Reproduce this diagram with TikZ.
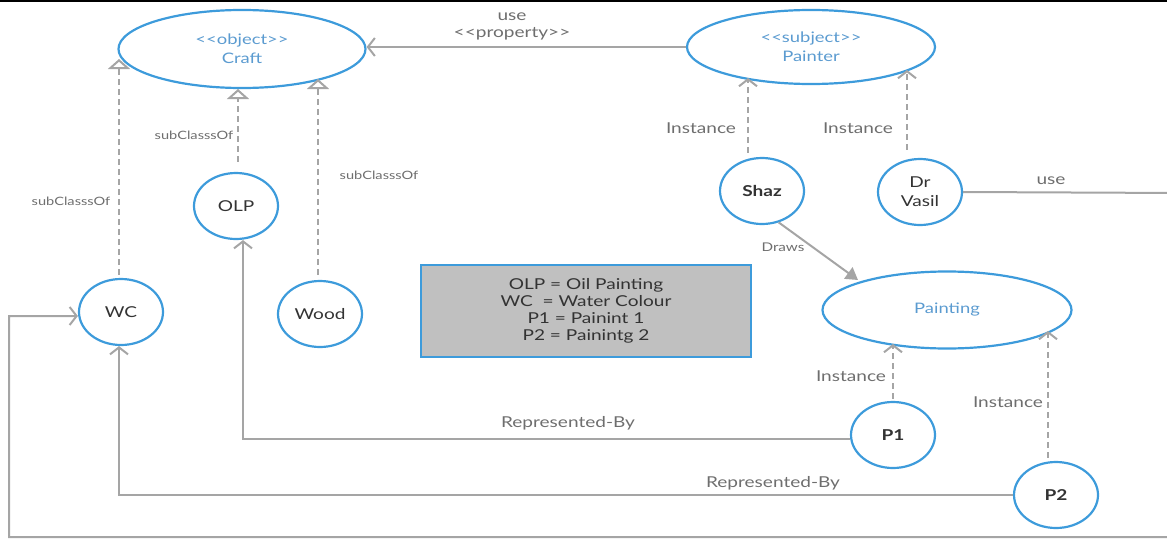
\documentclass[tikz,border=0pt]{standalone}
\usepackage{fontspec}
\setmainfont[FakeStretch=1.27]{Lato}
\usetikzlibrary{shapes.geometric,arrows.meta}

\definecolor{nodeblue}{HTML}{3D9BDB}
\definecolor{textblue}{HTML}{5B9BD0}
\definecolor{linegray}{HTML}{A5A5A5}
\definecolor{labelgray}{HTML}{6E6E6E}
\definecolor{darktext}{HTML}{333333}
\definecolor{legendfill}{HTML}{C0C0C0}

\begin{document}
\begin{tikzpicture}[x=1pt,y=-1pt,
  classnode/.style={ellipse, draw=nodeblue, line width=2.2pt, text=textblue,
    font=\fontsize{14.5}{19}\selectfont, align=center, inner sep=0pt},
  instnode/.style={ellipse, draw=nodeblue, line width=2.2pt, text=darktext,
    font=\fontsize{15}{19}\selectfont, align=center,
    minimum width=84pt, minimum height=66pt, inner sep=0pt},
  link/.style={draw=linegray, line width=2pt},
  barb/.style={-{Straight Barb[length=7pt,width=18pt,line width=2pt]}},
  dashlink/.style={link, dash pattern=on 6pt off 4pt},
  subclass/.style={dashlink, -{Triangle[open,length=10pt,width=22pt,line width=2pt,fill=white]}},
  lbl/.style={text=labelgray, font=\fontsize{15}{17}\selectfont, inner sep=0pt, align=center},
  smalllbl/.style={text=labelgray, font=\fontsize{11.5}{14}\selectfont, inner sep=0pt}
]
\clip (0,0) rectangle (1167,546);

% frame edge along the top
\draw[black, line width=1.6pt] (0,0.8) -- (1167,0.8);

% classes
\node[classnode, minimum width=247pt, minimum height=78pt] (craft) at (242,49) {<{}<object>{}>\\Craft};
\node[classnode, minimum width=248pt, minimum height=74pt] (painter) at (811,47) {<{}<subject>{}>\\Painter};
\node[classnode, minimum width=249pt, minimum height=77pt] (painting) at (947,310) {Painting};

% individuals
\node[instnode] (olp) at (236,206) {OLP};
\node[instnode] (wc) at (121,312) {WC};
\node[instnode] (wood) at (320,314) {Wood};
\node[instnode, font=\fontsize{15}{19}\selectfont\bfseries] (shaz) at (762,191) {Shaz};
\node[instnode] (vasil) at (920,192) {Dr\\Vasil};
\node[instnode, font=\fontsize{15}{19}\selectfont\bfseries] (p1) at (893,435) {P1};
\node[instnode, font=\fontsize{15}{19}\selectfont\bfseries] (p2) at (1056,495) {P2};

% legend
\node[draw=nodeblue, fill=legendfill, line width=2pt, minimum width=330pt, minimum height=92pt,
  text=darktext, font=\fontsize{15}{17}\selectfont, align=center] (legend) at (586,311)
  {OLP = Oil Painting\\ WC\ \ = Water Colour\\P1 = Painint 1\\ P2 = Painintg 2};

% arrow end points on class borders
\coordinate (wcTip) at (119,59);
\coordinate (olpTip) at (238,89);
\coordinate (woodTip) at (318,79);
\coordinate (shazTip) at (748,78);
\coordinate (vasilTip) at (907,70);
\coordinate (p1Tip) at (893,344);
\coordinate (p2Tip) at (1048,331);
\coordinate (drawsTip) at (858,280);
\coordinate (farRightA) at (1180,193);
\coordinate (farRightB) at (1180,537);
\coordinate (bottomLeft) at (9,537);

% use <<property>>
\draw[link, barb] (painter.west) -- (craft.east |- painter.west);
\node[lbl] (propLbl) at (512,26) {use\\<{}<property>{}>};

% subClassOf links
\draw[subclass, shorten <=3pt] ([xshift=-2pt]wc.north) -- (wcTip);
\draw[subclass, shorten <=10pt] ([xshift=2pt]olp.north) -- (olpTip);
\draw[subclass, shorten <=5pt] ([xshift=-2pt]wood.north) -- (woodTip);
\node[smalllbl] (subLblA) at (71,201) {subClasssOf};
\node[smalllbl] (subLblB) at (194,135) {subClasssOf};
\node[smalllbl] (subLblC) at (379,175) {subClasssOf};

% instance links
\draw[dashlink, barb, shorten <=4pt] ([xshift=-14pt]shaz.north) -- (shazTip);
\draw[dashlink, barb, shorten <=8pt] ([xshift=-13pt]vasil.north) -- (vasilTip);
\draw[dashlink, barb, shorten <=2pt] (p1.north) -- (p1Tip);
\draw[dashlink, barb, shorten <=3pt] ([xshift=-8pt]p2.north) -- (p2Tip);
\node[lbl] (instLblA) at (701,128) {Instance};
\node[lbl] (instLblB) at (858,128) {Instance};
\node[lbl] (instLblC) at (851,376) {Instance};
\node[lbl] (instLblD) at (1008,402) {Instance};

% Draws
\draw[link, -{Triangle[length=12pt,width=14pt]}] (shaz.-62) -- (drawsTip);
\node[smalllbl, font=\fontsize{12}{14}\selectfont] (drawsLbl) at (783,247) {Draws};

% Represented-By
\draw[link, barb] ([yshift=-4pt]p1.west) -| ([xshift=7pt]olp.south);
\node[lbl] (repLblA) at (568,423) {Represented-By};
\draw[link, barb] (p2.west) -| ([xshift=-2pt]wc.south);
\node[lbl] (repLblB) at (773,483) {Represented-By};

% Dr Vasil uses WC
\draw[link, barb] (vasil.east) -- (farRightA) -- (farRightB) -- (bottomLeft) |- ([yshift=-4pt]wc.west);
\node[lbl] (useLbl) at (1051,181) {use};
\end{tikzpicture}
\end{document}
